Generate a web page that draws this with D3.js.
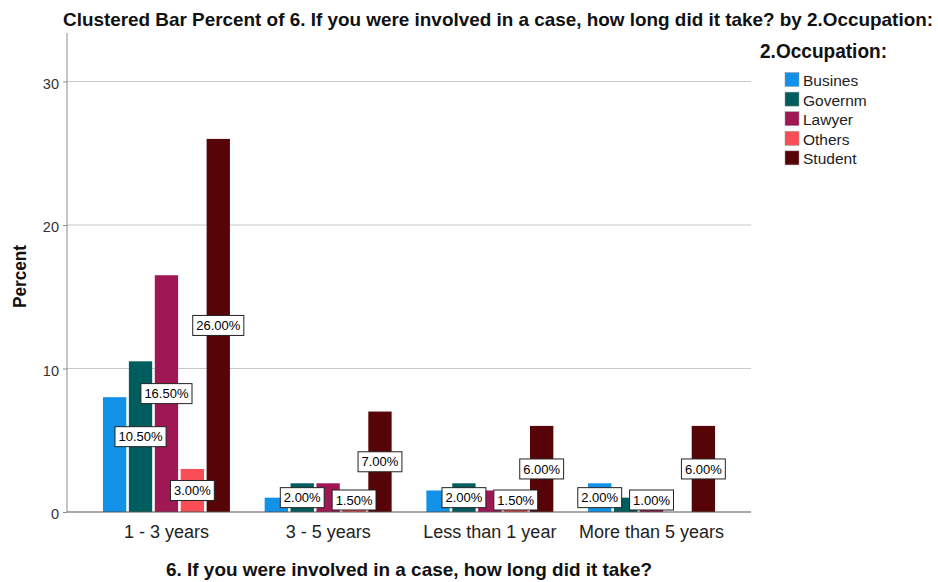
<!DOCTYPE html>
<html>
<head>
<meta charset="utf-8">
<script src="https://cdn.jsdelivr.net/npm/d3@7"></script>
<style>
  html, body { margin: 0; padding: 0; background: #fff; }
  svg { display: block; font-family: "Liberation Sans", Arial, sans-serif; }
</style>
</head>
<body>
<svg id="chart" width="938" height="582"></svg>
<script>
const categories = ["1 - 3 years", "3 - 5 years", "Less than 1 year", "More than 5 years"];
const seriesNames = ["Busines", "Governm", "Lawyer", "Others", "Student"];
const busines = [8.0, 1.0, 1.5, 2.0];
const governm = [10.5, 2.0, 2.0, 1.0];
const lawyer  = [16.5, 2.0, 1.5, 1.0];
const others  = [3.0, 1.5, 1.5, 0.0];
const student = [26.0, 7.0, 6.0, 6.0];
const yTicks = [0, 10, 20, 30];
const colors = ["#1192e8", "#005d5d", "#9f1853", "#fa4d56", "#570408"];

const seriesValues = [busines, governm, lawyer, others, student];
const svg = d3.select("#chart");

const plotLeft = 67, plotRight = 751, plotTop = 33, plotBottom = 512;

const y = d3.scaleLinear().domain([0, 33.38]).range([plotBottom, plotTop]);
const x = d3.scaleBand().domain(categories).range([85.6, 732.4]).padding(0);
const x1 = d3.scaleBand().domain(seriesNames).range([0, x.bandwidth()])
  .paddingInner(0.1).paddingOuter(0.67);
const color = d3.scaleOrdinal().domain(seriesNames).range(colors);

// gridlines
svg.append("g").selectAll("line").data(yTicks.filter(d => d > 0)).join("line")
  .attr("x1", plotLeft).attr("x2", plotRight)
  .attr("y1", d => y(d)).attr("y2", d => y(d))
  .attr("stroke", "#c8c8c8").attr("stroke-width", 1.2);

// y axis
const yAxis = svg.append("g").attr("transform", `translate(${plotLeft},0)`)
  .call(d3.axisLeft(y).tickValues(yTicks).tickSize(4).tickPadding(4).tickFormat(d3.format("d")));
yAxis.select(".domain").attr("stroke", "#8c8c8c").attr("d", `M0,${plotTop}V${plotBottom}`);
yAxis.selectAll(".tick line").attr("stroke", "#8c8c8c");
yAxis.selectAll(".tick text").attr("font-size", 14.5).attr("fill", "#333")
  .attr("font-family", "'Liberation Sans', Arial, sans-serif").attr("dy", "0.45em");

// bars
const flat = [];
categories.forEach((c, ci) => {
  seriesNames.forEach((s, si) => {
    flat.push({cat: c, ser: s, v: seriesValues[si][ci]});
  });
});
svg.append("g").selectAll("rect").data(flat.filter(d => d.v > 0)).join("rect")
  .attr("x", d => x(d.cat) + x1(d.ser))
  .attr("y", d => y(d.v))
  .attr("width", x1.bandwidth())
  .attr("height", d => y(0) - y(d.v))
  .attr("fill", d => color(d.ser));

// x axis
const xAxis = svg.append("g").attr("transform", `translate(0,${plotBottom})`)
  .call(d3.axisBottom(x).tickSize(0).tickPadding(13));
xAxis.select(".domain").attr("stroke", "#555").attr("stroke-width", 1.2)
  .attr("d", `M${plotLeft},0H${plotRight}`);
xAxis.selectAll(".tick text").attr("font-size", 18).attr("fill", "#222")
  .attr("font-family", "'Liberation Sans', Arial, sans-serif");

// data labels with collision hiding
const labelG = svg.append("g");
const placed = [];
const cand = flat.filter(d => d.v > 0).slice().sort((a, b) => b.v - a.v);
cand.forEach(d => {
  const cx = x(d.cat) + x1(d.ser) + x1.bandwidth() / 2;
  let cy = (y(d.v) + y(0)) / 2;
  cy = Math.min(cy, plotBottom - 12);
  const g = labelG.append("g");
  const t = g.append("text").attr("x", cx).attr("y", cy).attr("dy", "0.36em")
    .attr("text-anchor", "middle").attr("font-size", 13).attr("fill", "#000")
    .text(d3.format(".2f")(d.v) + "%");
  const w = t.node().getComputedTextLength() + 7, h = 20;
  const box = {x0: cx - w / 2, x1: cx + w / 2, y0: cy - h / 2, y1: cy + h / 2};
  const hit = placed.some(b => !(box.x1 <= b.x0 || box.x0 >= b.x1 || box.y1 <= b.y0 || box.y0 >= b.y1));
  if (hit) { g.remove(); return; }
  placed.push(box);
  g.insert("rect", "text").attr("x", box.x0).attr("y", box.y0).attr("width", w).attr("height", h)
    .attr("fill", "#fff").attr("stroke", "#222").attr("stroke-width", 1);
});

// titles
function fitText(sel, len) { sel.attr("textLength", len).attr("lengthAdjust", "spacingAndGlyphs"); }
svg.append("text").attr("x", 63).attr("y", 26).attr("font-size", 19).attr("font-weight", "bold")
  .attr("fill", "#111")
  .text("Clustered Bar Percent of 6. If you were involved in a case, how long did it take? by 2.Occupation:")
  .call(fitText, 870);
svg.append("text").attr("x", 166).attr("y", 576).attr("font-size", 19).attr("font-weight", "bold")
  .attr("fill", "#111")
  .text("6. If you were involved in a case, how long did it take?")
  .call(fitText, 486);
svg.append("text").attr("transform", "translate(26,308) rotate(-90)")
  .attr("font-size", 19).attr("font-weight", "bold").attr("fill", "#111")
  .text("Percent").call(fitText, 63);

// legend
const lg = svg.append("g");
lg.append("text").attr("x", 760).attr("y", 58).attr("font-size", 20).attr("font-weight", "bold")
  .attr("fill", "#111").text("2.Occupation:").call(fitText, 127);
const items = lg.selectAll("g.item").data(seriesNames).join("g").attr("class", "item")
  .attr("transform", (d, i) => `translate(785,${72.5 + i * 19.6})`);
items.append("rect").attr("width", 14).attr("height", 14).attr("fill", d => color(d))
  .attr("stroke", "#999").attr("stroke-width", 0.5);
items.append("text").attr("x", 18).attr("y", 13.5).attr("font-size", 15.5).attr("fill", "#222").text(d => d);
</script>
</body>
</html>
